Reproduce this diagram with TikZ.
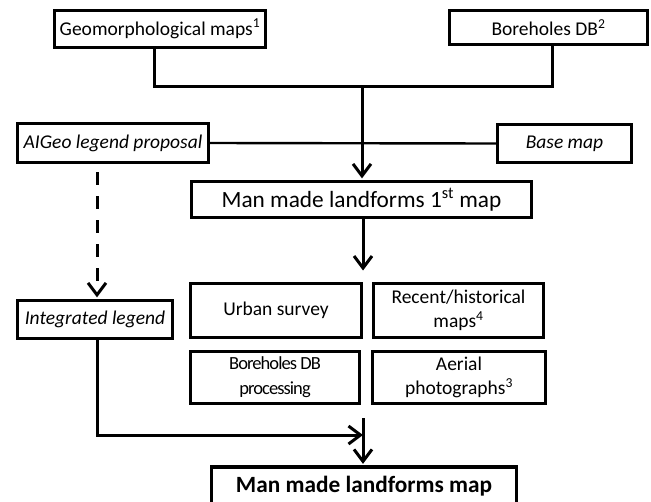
\documentclass[tikz,border=0pt]{standalone}
\usepackage{fontspec}
\setmainfont{Carlito}
\usetikzlibrary{arrows.meta}
\newcommand\fsmall{\fontsize{19.5}{24}\selectfont}
\newcommand\fmid{\fontsize{18.5}{25}\selectfont\addfontfeature{LetterSpace=-5}}
\newcommand\fbig{\fontsize{23.3}{28}\selectfont}
\tikzset{
  box/.style={draw, line width=3.2pt, inner sep=0pt, align=center, font=\fsmall},
  conn/.style={line width=3pt},
  arr/.style={conn, -{Straight Barb[length=12pt,width=18pt,line width=3pt]}, shorten >=1.5pt},
}
\begin{document}
\begin{tikzpicture}[x=1pt,y=-1pt]
\useasboundingbox (0,0) rectangle (651,501);
\clip (0,0) rectangle (651,501);
% boxes
\node[box, minimum width=211pt, minimum height=37pt] (geo) at (160,29) {Geomorphological maps\textsuperscript{1}};
\node[box, minimum width=198pt, minimum height=34pt] (bh) at (548.5,27.5) {Boreholes DB\textsuperscript{2}};
\node[box, minimum width=191pt, minimum height=39pt, font=\fsmall\itshape] (aig) at (113,143) {AIGeo legend proposal};
\node[box, minimum width=134pt, minimum height=38pt, font=\fsmall\itshape] (base) at (564.5,143.5) {Base map};
\node[box, minimum width=340pt, minimum height=36pt, font=\fbig] (m1) at (361.5,199.5) {Man made landforms 1\textsuperscript{st} map};
\node[box, minimum width=155pt, minimum height=38pt, font=\fsmall\itshape] (integ) at (95,319.5) {Integrated legend};
\node[box, minimum width=171pt, minimum height=54pt] (urban) at (276,310.5) {Urban survey};
\node[box, minimum width=170pt, minimum height=54pt] (recent) at (458.5,310.5) {Recent/historical\\maps\textsuperscript{4}};
\node[box, minimum width=169pt, minimum height=52pt, font=\fmid] (bdb) at (275,377.5) {Boreholes DB\\processing};
\node[box, minimum width=173pt, minimum height=52pt] (aerial) at (459,377.5) {Aerial\\photographs\textsuperscript{3}};
\node[box, minimum width=305pt, minimum height=38pt, font=\fbig\bfseries] (final) at (364,486) {Man made landforms map};
% junction coordinates
\coordinate (jl) at (154,86);
\coordinate (jr) at (552,86);
\coordinate (jc) at (362,86);
\coordinate (t1) at (363,272);
\coordinate (dd) at (97,0);
\coordinate (k) at (97,435);
\coordinate (t2) at (363,435);
\coordinate (v) at (363,418);
% connectors
\draw[conn] (geo.south -| jl) -- (jl) -- (jr) -- (bh.south -| jr);
\draw[arr] (jc) -- (m1.north -| jc);
\draw[line width=2.4pt] (aig.east) -- (base.west);
\draw[arr] (m1.south -| t1) -- (t1);
\draw[arr, dash pattern=on 13pt off 11pt, dash phase=16pt] (aig.south -| dd) -- (integ.north -| dd);
\draw[arr, shorten >=0pt] (integ.south -| k) -- (k) -- (t2);
\draw[arr] (v) -- (final.north -| v);
\end{tikzpicture}
\end{document}
